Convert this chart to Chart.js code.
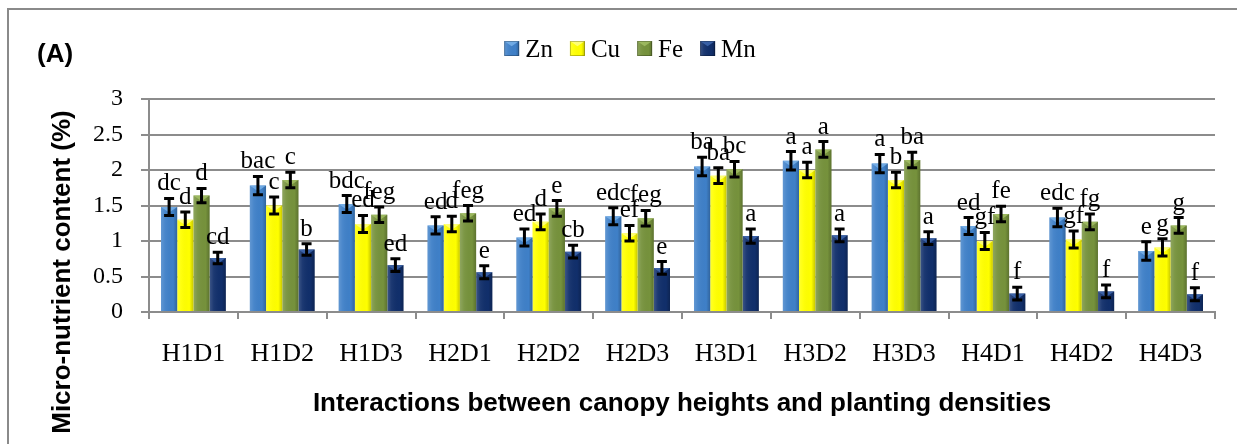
<!DOCTYPE html>
<html>
<head>
<meta charset="utf-8">
<script src="https://cdn.jsdelivr.net/npm/chart.js@4.4.1/dist/chart.umd.min.js"></script>
<style>
  html, body { margin: 0; padding: 0; background: #ffffff; overflow: hidden; }
  #wrap { position: relative; width: 1237px; height: 444px; }
  #frame { position: absolute; left: 7px; top: 8px; width: 1400px; height: 600px;
           border-left: 2px solid #8a8a8a; border-top: 2px solid #8a8a8a; box-sizing: border-box; }
  canvas { position: absolute; left: 0; top: 0; }
</style>
</head>
<body>
<div id="wrap">
  <div id="frame"></div>
  <canvas id="c" width="1237" height="444"></canvas>
</div>
<script>
// ---- Data ----
const categories = ['H1D1','H1D2','H1D3','H2D1','H2D2','H2D3','H3D1','H3D2','H3D3','H4D1','H4D2','H4D3'];
const seriesNames = ['Zn','Cu','Fe','Mn'];

const znValues = [1.48, 1.78, 1.52, 1.22, 1.05, 1.35, 2.05, 2.13, 2.09, 1.21, 1.33, 0.86];
const cuValues = [1.30, 1.50, 1.24, 1.24, 1.27, 1.11, 1.92, 2.00, 1.86, 1.00, 1.02, 0.91];
const feValues = [1.64, 1.86, 1.37, 1.39, 1.46, 1.32, 2.01, 2.29, 2.14, 1.38, 1.27, 1.22];
const mnValues = [0.76, 0.88, 0.66, 0.56, 0.85, 0.62, 1.07, 1.08, 1.04, 0.26, 0.29, 0.25];

const znErr = [0.12, 0.13, 0.12, 0.12, 0.12, 0.12, 0.13, 0.13, 0.13, 0.12, 0.13, 0.13];
const cuErr = [0.11, 0.12, 0.12, 0.11, 0.11, 0.11, 0.11, 0.11, 0.11, 0.12, 0.12, 0.12];
const feErr = [0.10, 0.11, 0.11, 0.11, 0.11, 0.11, 0.11, 0.11, 0.11, 0.11, 0.11, 0.11];
const mnErr = [0.08, 0.08, 0.09, 0.09, 0.09, 0.09, 0.10, 0.09, 0.09, 0.09, 0.09, 0.09];

const znLetters = ['dc','bac','bdc','ed','ed','edc','ba','a','a','ed','edc','e'];
const cuLetters = ['d','c','ed','d','d','ef','ba','a','b','gf','gf','g'];
const feLetters = ['d','c','feg','feg','e','feg','bc','a','ba','fe','fg','g'];
const mnLetters = ['cd','b','ed','e','cb','e','a','a','a','f','f','f'];

const yTicks = [0, 0.5, 1, 1.5, 2, 2.5, 3];
const yTickLabels = ['0', '0.5', '1', '1.5', '2', '2.5', '3'];

const panelLabel = '(A)';
const xTitle = 'Interactions between canopy heights and planting densities';
const yTitle = 'Micro-nutrient content (%)';

// ---- Styles ----
const SERIF = "'Liberation Serif', 'Times New Roman', serif";
const SANS = "'Liberation Sans', Arial, sans-serif";
const colors = ['#3F80C8', '#FFFF00', '#76923C', '#112F6B'];
const highlights = ['#80B8EE', '#FFFF9A', '#A8C46A', '#4570B8'];
const GRID = '#8c8c8c';

function bevel(ctx, left, top, w, h, hi) {
  const g = ctx.createLinearGradient(left, 0, left + w, 0);
  g.addColorStop(0, 'rgba(255,255,255,0.18)');
  g.addColorStop(0.25, 'rgba(255,255,255,0.05)');
  g.addColorStop(0.75, 'rgba(0,0,0,0.0)');
  g.addColorStop(1, 'rgba(0,0,0,0.22)');
  ctx.fillStyle = g;
  ctx.fillRect(left, top, w, h);
  const ch = Math.min(w * 0.35, h);
  ctx.fillStyle = hi;
  ctx.globalAlpha = 0.75;
  ctx.beginPath();
  ctx.moveTo(left, top);
  ctx.lineTo(left + w, top);
  ctx.lineTo(left + w / 2, top + ch);
  ctx.closePath();
  ctx.fill();
  ctx.globalAlpha = 1;
}

const decorPlugin = {
  id: 'decor',
  afterDatasetsDraw(chart) {
    const ctx = chart.ctx;
    const yScale = chart.scales.y;
    ctx.save();
    chart.data.datasets.forEach((ds, di) => {
      const meta = chart.getDatasetMeta(di);
      meta.data.forEach((el) => {
        const w = el.width, left = el.x - w / 2, top = el.y, h = el.base - el.y;
        bevel(ctx, left, top, w, h, highlights[di]);
      });
    });
    chart.data.datasets.forEach((ds, di) => {
      const meta = chart.getDatasetMeta(di);
      meta.data.forEach((el, i) => {
        const v = ds.data[i], e = ds.errors[i];
        const yTop = yScale.getPixelForValue(v + e);
        const yBot = yScale.getPixelForValue(v - e);
        ctx.strokeStyle = '#000';
        ctx.lineWidth = 3;
        ctx.beginPath();
        ctx.moveTo(el.x, yTop); ctx.lineTo(el.x, yBot);
        ctx.moveTo(el.x - 5, yTop); ctx.lineTo(el.x + 5, yTop);
        ctx.moveTo(el.x - 5, yBot); ctx.lineTo(el.x + 5, yBot);
        ctx.stroke();
        ctx.fillStyle = '#000';
        ctx.font = '25px ' + SERIF;
        ctx.textAlign = 'center';
        ctx.textBaseline = 'alphabetic';
        ctx.fillText(ds.letters[i], el.x, yTop - 8);
      });
    });
    ctx.restore();
  },
  afterDraw(chart) {
    const ctx = chart.ctx;
    ctx.save();
    ctx.fillStyle = '#000';
    ctx.font = 'bold 26px ' + SANS;
    ctx.textAlign = 'left';
    ctx.textBaseline = 'alphabetic';
    ctx.fillText(panelLabel, 37, 62);
    ctx.textAlign = 'center';
    ctx.fillText(xTitle, (chart.chartArea.left + chart.chartArea.right) / 2, 411);
    ctx.save();
    ctx.translate(70, 272);
    ctx.rotate(-Math.PI / 2);
    ctx.fillText(yTitle, 0, 0);
    ctx.restore();
    // legend
    ctx.font = '25px ' + SERIF;
    const box = 15, gapText = 6, gapItem = 17;
    const widths = chart.data.datasets.map(d => ctx.measureText(d.label).width);
    let total = 0;
    widths.forEach((w, i) => { total += box + gapText + w + (i < widths.length - 1 ? gapItem : 0); });
    let x = 630 - total / 2;
    chart.data.datasets.forEach((d, i) => {
      ctx.fillStyle = colors[i];
      ctx.fillRect(x, 41, box, box);
      bevel(ctx, x, 41, box, box, highlights[i]);
      ctx.strokeStyle = 'rgba(0,0,0,0.25)';
      ctx.lineWidth = 1;
      ctx.strokeRect(x + 0.5, 41.5, box - 1, box - 1);
      ctx.fillStyle = '#000';
      ctx.textAlign = 'left';
      ctx.textBaseline = 'alphabetic';
      ctx.fillText(d.label, x + box + gapText, 57);
      x += box + gapText + widths[i] + gapItem;
    });
    ctx.restore();
  }
};

const valueSets = [znValues, cuValues, feValues, mnValues];
const errSets = [znErr, cuErr, feErr, mnErr];
const letterSets = [znLetters, cuLetters, feLetters, mnLetters];

const chart = new Chart(document.getElementById('c').getContext('2d'), {
  type: 'bar',
  data: {
    labels: categories,
    datasets: seriesNames.map((name, i) => ({
      label: name,
      data: valueSets[i],
      errors: errSets[i],
      letters: letterSets[i],
      backgroundColor: colors[i],
      borderWidth: 0,
      categoryPercentage: 0.73,
      barPercentage: 1.0
    }))
  },
  options: {
    responsive: false,
    animation: false,
    layout: { padding: { left: 0, right: 22, top: 99, bottom: 0 } },
    plugins: { legend: { display: false }, tooltip: { enabled: false } },
    scales: {
      x: {
        grid: { display: true, drawOnChartArea: false, drawTicks: true, tickLength: 7,
                color: GRID, lineWidth: 2, offset: true },
        border: { display: true, color: GRID, width: 2 },
        ticks: { color: '#000', font: { family: SERIF, size: 26 }, padding: 20,
                 maxRotation: 0, autoSkip: false },
        afterFit: (s) => { s.height = 132; }
      },
      y: {
        min: 0, max: 3,
        afterBuildTicks: (s) => { s.ticks = yTicks.map(v => ({ value: v })); },
        ticks: { color: '#000', font: { family: SERIF, size: 24 }, padding: 18,
                 callback: (v) => yTickLabels[yTicks.indexOf(v)] },
        grid: { color: GRID, lineWidth: 2, tickLength: 8 },
        border: { display: true, color: GRID, width: 2 },
        afterFit: (s) => { s.width = 149; }
      }
    }
  },
  plugins: [decorPlugin]
});
</script>
</body>
</html>
